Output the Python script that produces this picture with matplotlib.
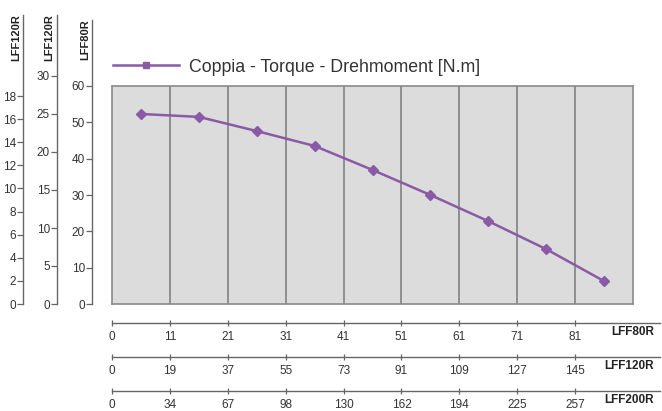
import numpy as np
import matplotlib
matplotlib.use("Agg")
import matplotlib.pyplot as plt
from matplotlib.lines import Line2D

plt.rcParams['font.family'] = ['Liberation Sans', 'DejaVu Sans']

# ── Data ───────────────────────────────────────────────────────────────────
torque = [52.3, 51.5, 47.6, 43.5, 36.9, 30.0, 22.8, 15.1, 6.3]
speed_lff80r = [0, 11, 21, 31, 41, 51, 61, 71, 81]
speed_lff120r = [0, 19, 37, 55, 73, 91, 109, 127, 145]
speed_lff200r = [0, 34, 67, 98, 130, 162, 194, 225, 257]

ticks_lff80r = [0, 10, 20, 30, 40, 50, 60]
ticks_lff120r_a = [0, 5, 10, 15, 20, 25, 30]
ticks_lff120r_b = [0, 2, 4, 6, 8, 10, 12, 14, 16, 18]

PURPLE = "#8a5aa6"
TXT = "#333333"
AXC = "#666666"

W, H = 662, 411
fig = plt.figure(figsize=(W / 100, H / 100), dpi=100)


def box(x0, y0, x1, y1):
    # pixel box (y measured from top) -> figure fraction rect
    return [x0 / W, 1 - y1 / H, (x1 - x0) / W, (y1 - y0) / H]


# ── Main plot area ─────────────────────────────────────────────────────────
ax = fig.add_axes(box(112, 86, 633, 304))
ax.set_facecolor("#dcdcdc")
ax.set_xlim(0, len(torque))
ax.set_ylim(0, 60)
for v in range(1, len(torque)):
    ax.axvline(v, color="#7a7a7a", lw=1.1)
for s in ax.spines.values():
    s.set_color("#8a8a8a")
    s.set_linewidth(1.2)
ax.set_xticks([])
ax.set_yticks([])

xpos = np.arange(len(torque)) + 0.5
ax.plot(xpos, torque, color=PURPLE, lw=1.8, marker="D", ms=5,
        markeredgecolor=PURPLE)

handle = Line2D([], [], color=PURPLE, lw=1.8, marker="s", ms=4.5)
ax.legend([handle], ["Coppia - Torque - Drehmoment [N.m]"],
          loc="center left", bbox_to_anchor=(113 / W, 1 - 67 / H),
          bbox_transform=fig.transFigure, frameon=False, borderpad=0,
          borderaxespad=0, handlelength=3.7, handletextpad=0.6,
          prop={"size": 12.8}, labelcolor=TXT)

# ── Left vertical scales ───────────────────────────────────────────────────
left_scales = [
    (92, 20, 218 / 60, ticks_lff80r, "LFF80R", 85),
    (57, 15, 228 / 30, ticks_lff120r_a, "LFF120R", 49),
    (23, 15, 208 / 18, ticks_lff120r_b, "LFF120R", 16),
]
for x, top, pxu, ticks, name, lx in left_scales:
    a = fig.add_axes(box(x, top, x + 1, 304))
    a.set_facecolor("none")
    a.set_ylim(0, (304 - top) / pxu)
    a.set_xticks([])
    a.set_yticks(ticks)
    for k in ("top", "right", "bottom"):
        a.spines[k].set_visible(False)
    a.spines["left"].set_color(AXC)
    a.spines["left"].set_linewidth(1.0)
    a.tick_params(axis="y", length=4, width=0.9, color=AXC, pad=1,
                  labelsize=8.5, labelcolor=TXT)
    fig.text(lx / W, 1 - (top - 1) / H, name, rotation=90, ha="center",
             va="top", fontsize=8, fontweight="bold", color="#222222")

# ── Bottom horizontal scales ───────────────────────────────────────────────
cell_px = (633 - 112) / len(torque)
bottom_scales = [
    (323, speed_lff80r, "LFF80R"),
    (357, speed_lff120r, "LFF120R"),
    (391, speed_lff200r, "LFF200R"),
]
for y, labels, name in bottom_scales:
    b = fig.add_axes(box(112, y - 1, 660, y))
    b.set_facecolor("none")
    b.set_xlim(0, (660 - 112) / cell_px)
    b.set_yticks([])
    b.set_xticks(range(len(labels)))
    b.set_xticklabels([str(v) for v in labels])
    for k in ("top", "right", "left"):
        b.spines[k].set_visible(False)
    b.spines["bottom"].set_color(AXC)
    b.spines["bottom"].set_linewidth(1.0)
    b.tick_params(axis="x", direction="inout", length=5, width=0.9,
                  color=AXC, pad=3.5, labelsize=8.5, labelcolor=TXT)
    fig.text(654 / W, 1 - (y + 9) / H, name, ha="right", va="center",
             fontsize=8.5, fontweight="bold", color="#222222")

fig.savefig("out.png", dpi=100)
